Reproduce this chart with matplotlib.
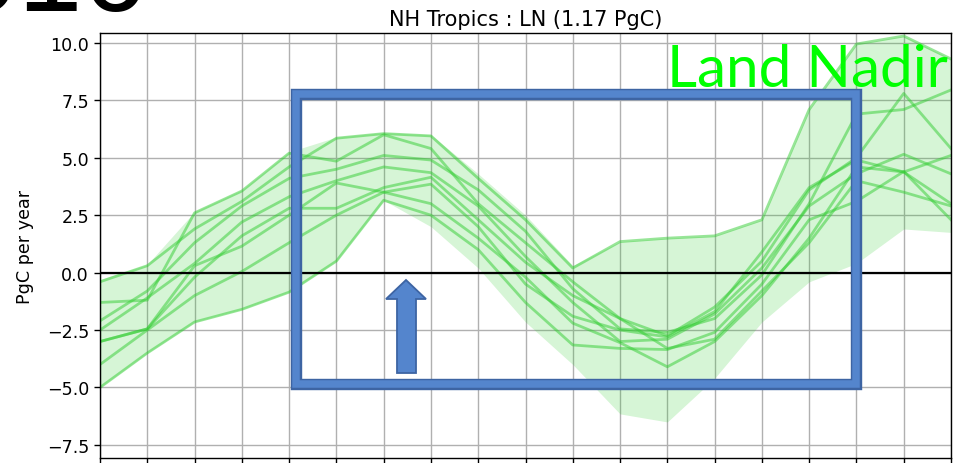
import numpy as np
import matplotlib
matplotlib.use('Agg')
import matplotlib.pyplot as plt
from matplotlib.patches import Rectangle, Polygon

# month index along the x axis
months = np.arange(19)

# individual years (PgC per year)
year_1 = [-0.4, 0.3, 1.9, 3.1, 4.6, 5.85, 6.05, 5.95, 4.1, 2.3, 0.2, 1.35, 1.5, 1.6, 2.3, 7.1, 9.95, 10.3, 9.3]
year_2 = [-1.3, -1.2, 2.6, 3.55, 5.2, 4.85, 6.0, 5.4, 3.0, 1.3, -0.4, -2.0, -2.75, -1.5, 0.5, 3.6, 5.0, 7.8, 5.4]
year_3 = [-2.1, -0.8, 1.3, 2.9, 4.1, 4.5, 5.1, 4.9, 3.6, 1.8, -0.7, -2.45, -2.6, -2.0, -0.1, 3.0, 6.9, 7.1, 7.95]
year_4 = [-2.5, -1.1, 0.4, 2.2, 3.3, 4.0, 4.6, 4.35, 2.9, 0.7, -1.3, -3.0, -2.9, -1.8, 0.2, 2.9, 4.3, 5.15, 4.3]
year_5 = [-3.0, -2.45, -0.2, 1.6, 2.8, 2.8, 3.7, 4.15, 2.3, 0.45, -1.0, -2.0, -3.3, -2.9, -0.8, 1.3, 4.0, 3.5, 2.9]
year_6 = [-3.0, -2.45, 0.3, 1.15, 2.5, 3.9, 3.5, 3.85, 2.0, -0.5, -1.9, -2.5, -2.8, -1.7, 0.9, 3.7, 4.9, 4.38, 3.0]
year_7 = [-5.0, -3.5, -2.15, -1.6, -0.85, 0.5, 3.15, 2.5, 1.0, -1.3, -3.15, -3.3, -3.35, -2.6, -0.5, 2.3, 3.1, 4.4, 2.3]
year_8 = [-4.0, -2.5, -1.0, 0.05, 1.3, 2.5, 3.5, 3.0, 1.5, -0.2, -2.2, -3.05, -4.1, -3.0, -1.0, 1.5, 4.6, 4.38, 5.1]
years = [year_1, year_2, year_3, year_4, year_5, year_6, year_7, year_8]

# spread band
band_hi = [-0.3, 0.35, 2.65, 3.6, 5.25, 5.9, 6.1, 6.0, 4.3, 2.5, 0.3, 1.35, 1.5, 1.6, 2.3, 7.1, 9.95, 10.3, 9.3]
band_lo = [-5.0, -3.5, -2.15, -1.6, -0.85, 0.5, 3.15, 2.0, 0.2, -2.15, -4.0, -6.15, -6.5, -4.6, -2.15, -0.4, 0.4, 1.9, 1.75]

title = 'NH Tropics : LN (1.17 PgC)'
yticks = [-7.5, -5.0, -2.5, 0.0, 2.5, 5.0, 7.5, 10.0]

W, H = 960, 464
fig = plt.figure(figsize=(W / 100, H / 100), dpi=100)
ax = fig.add_axes([100 / W, 5 / H, 851 / W, 425 / H])


def px(x, y):
    # pixel position (top-left origin) -> figure fraction
    return x / W, 1 - y / H


ax.fill_between(months, band_lo, band_hi, color='limegreen', alpha=0.2, lw=0)
for yr in years:
    ax.plot(months, yr, color='limegreen', alpha=0.5, lw=2.0)

ax.axhline(0, color='black', lw=1.6, zorder=3)
ax.set_xlim(0, 18)
ax.set_ylim(-8.07, 10.43)
ax.set_xticks(months)
ax.set_yticks(yticks)
ax.grid(True, color='#b0b0b0', lw=1.0)
ax.set_axisbelow(True)
ax.tick_params(labelsize=12.6, length=4.4, width=1.0, labelbottom=False)
for s in ax.spines.values():
    s.set_linewidth(1.0)
ax.set_title(title, fontsize=15, pad=6)
ax.set_ylabel('PgC per year', fontsize=12.6, labelpad=9)

# big label, mostly cut off at the top edge
fig.text(*px(-110, 11), '2016', fontsize=83, family='Liberation Sans',
         ha='left', va='baseline')

# annotation overlay
fig.text(*px(948, 87), 'Land Nadir', fontsize=42, family='Lato', color='#00ff00',
         ha='right', va='baseline')

x0, y0 = px(296, 384.5)
x1, y1 = px(856, 94.5)
fig.add_artist(Rectangle((x0, y0), x1 - x0, y1 - y0, transform=fig.transFigure,
                         fill=False, ec='#3d64a3', lw=8.2, joinstyle='miter'))
fig.add_artist(Rectangle((x0, y0), x1 - x0, y1 - y0, transform=fig.transFigure,
                         fill=False, ec='#5485cd', lw=5.4, joinstyle='miter'))

arrow = [(406, 281), (426, 300), (416, 300), (416, 374), (397, 374), (397, 300), (386, 300)]
fig.add_artist(Polygon([px(a, b) for a, b in arrow], closed=True, transform=fig.transFigure,
                       fc='#5485cd', ec='#3d64a3', lw=1.3))

fig.savefig('out.png', dpi=100)
